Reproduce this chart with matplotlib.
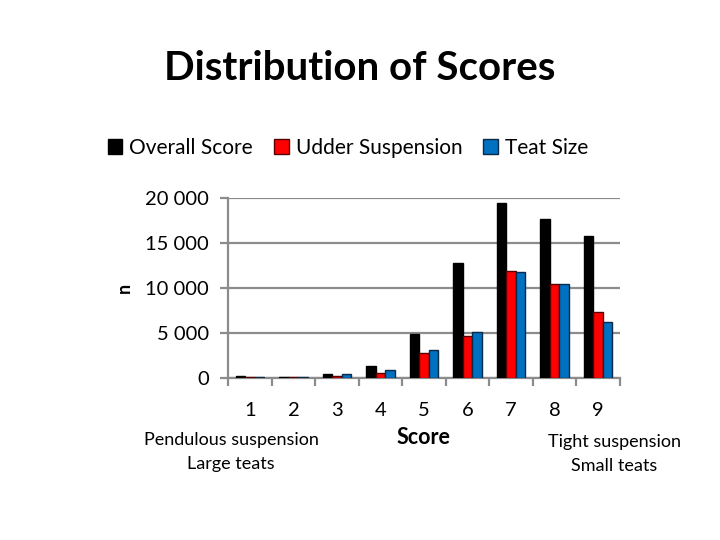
import numpy as np
import matplotlib
matplotlib.use("Agg")
from matplotlib import pyplot as plt
from matplotlib.patches import Patch

scores = ["1", "2", "3", "4", "5", "6", "7", "8", "9"]
overall_score = [220, 120, 480, 1390, 4880, 12770, 19510, 17700, 15810]
udder_suspension = [150, 110, 300, 560, 2820, 4690, 11960, 10510, 7400]
teat_size = [150, 110, 450, 900, 3160, 5190, 11780, 10440, 6220]

series = [
    ("Overall Score", overall_score, "#000000", "#000000"),
    ("Udder Suspension", udder_suspension, "#ff0000", "#5a0000"),
    ("Teat Size", teat_size, "#0070c0", "#0b2a4a"),
]

plt.rcParams["font.family"] = ["Lato", "DejaVu Sans"]

fig = plt.figure(figsize=(7.2, 5.4), dpi=100, facecolor="white")
ax = fig.add_axes([0.317, 0.2994, 0.544, 0.3334])

x = np.arange(len(scores))
width = 0.217
for i, (name, vals, color, edge) in enumerate(series):
    ax.bar(x + (i - 1) * width, vals, width, color=color, edgecolor=edge,
           linewidth=1.0, label=name, zorder=3)

ax.set_xlim(-0.5, len(scores) - 0.5)
ax.set_ylim(0, 20000)
ax.set_yticks([0, 5000, 10000, 15000, 20000])
ax.set_yticklabels(["0", "5 000", "10 000", "15 000", "20 000"], fontsize=14.5)
ax.yaxis.grid(True, color="#8c8c8c", linewidth=1.6, zorder=0)

ax.set_xticks(np.arange(-0.5, len(scores), 1.0))
ax.set_xticklabels([])
ax.set_xticks(x, minor=True)
ax.set_xticklabels(scores, minor=True, fontsize=14.5)
ax.tick_params(axis="x", which="minor", length=0, pad=17)
ax.tick_params(axis="x", which="major", length=6, width=1.6, color="#8c8c8c")
ax.tick_params(axis="y", length=6, width=1.6, color="#8c8c8c", pad=8)

for side in ["top", "right"]:
    ax.spines[side].set_visible(False)
for side in ["left", "bottom"]:
    ax.spines[side].set_color("#8c8c8c")
    ax.spines[side].set_linewidth(1.6)

ax.set_ylabel("n", fontsize=13, fontweight="bold", labelpad=9)
fig.text(423 / 720, 1 - 437 / 540, "Score", ha="center", va="center",
         fontsize=15.5, fontweight="bold")

fig.text(231 / 720, 1 - 452 / 540, "Pendulous suspension\nLarge teats",
         ha="center", va="center", fontsize=13, linespacing=1.55)
fig.text(614 / 720, 1 - 454 / 540, "Tight suspension\nSmall teats",
         ha="center", va="center", fontsize=13, linespacing=1.55)

fig.text(360 / 720, 1 - 68 / 540, "Distribution of Scores", ha="center",
         va="center", fontsize=29, fontweight="bold")

handles = [Patch(facecolor=c, edgecolor=e, label=n) for n, _, c, e in series]
fig.legend(handles=handles, loc="center", bbox_to_anchor=(348 / 720, 1 - 148 / 540),
           ncol=3, frameon=False, fontsize=15, handlelength=0.7, handleheight=0.7,
           handletextpad=0.35, columnspacing=1.0)

fig.savefig("out.png", dpi=100)
